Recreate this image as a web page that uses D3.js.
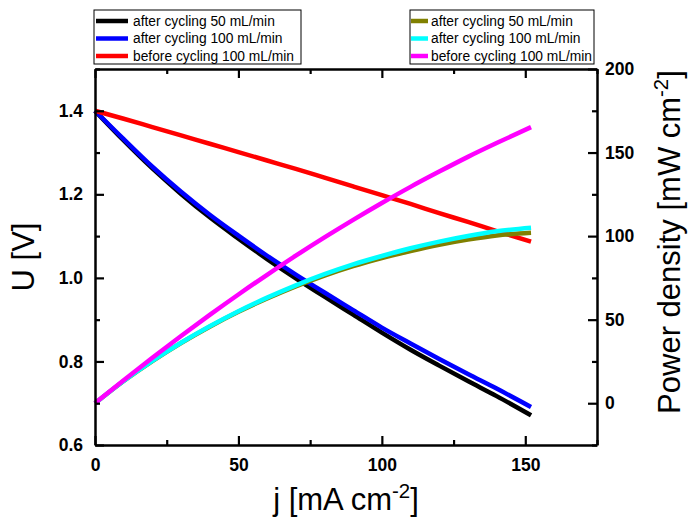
<!DOCTYPE html>
<html>
<head>
<meta charset="utf-8">
<script src="https://cdn.jsdelivr.net/npm/d3@7"></script>
<style>
  html, body { margin: 0; padding: 0; background: #fff; }
  svg { display: block; font-family: "Liberation Sans", Arial, Helvetica, sans-serif; }
</style>
</head>
<body>
<svg id="chart" width="692" height="519"></svg>
<script>
// Current density [mA cm-2]
const currentDensity = [0, 10, 20, 30, 40, 50, 60, 70, 80, 90, 100, 110, 120, 130, 140, 152];

// Cell voltage [V]
const uAfter50 = [1.400, 1.329, 1.262, 1.201, 1.145, 1.094, 1.045, 0.999, 0.955, 0.912, 0.869, 0.828, 0.790, 0.753, 0.717, 0.671];
const uAfter100 = [1.400, 1.332, 1.266, 1.206, 1.151, 1.101, 1.053, 1.008, 0.965, 0.923, 0.881, 0.843, 0.806, 0.770, 0.735, 0.691];
const uBefore100 = [1.400, 1.381, 1.361, 1.341, 1.321, 1.301, 1.281, 1.261, 1.240, 1.219, 1.198, 1.177, 1.155, 1.134, 1.112, 1.087];

// Power density [mW cm-2] = j * U
const pAfter50 = currentDensity.map((j, i) => j * uAfter50[i]);
const pAfter100 = currentDensity.map((j, i) => j * uAfter100[i]);
const pBefore100 = currentDensity.map((j, i) => j * uBefore100[i]);

const xTicks = [0, 50, 100, 150];
const yLeftTicks = [0.6, 0.8, 1.0, 1.2, 1.4];
const yRightTicks = [0, 50, 100, 150, 200];

const leftSeries = [
  { name: "after cycling 50 mL/min", values: uAfter50, color: "#000000" },
  { name: "after cycling 100 mL/min", values: uAfter100, color: "#0000ff" },
  { name: "before cycling 100 mL/min", values: uBefore100, color: "#ff0000" }
];
const rightSeries = [
  { name: "after cycling 50 mL/min", values: pAfter50, color: "#808000" },
  { name: "after cycling 100 mL/min", values: pAfter100, color: "#00ffff" },
  { name: "before cycling 100 mL/min", values: pBefore100, color: "#ff00ff" }
];

const svg = d3.select("#chart");
const m = { left: 95, right: 597, top: 69, bottom: 445 };

const x = d3.scaleLinear().domain([0, 175]).range([m.left, m.right]);
const yL = d3.scaleLinear().domain([0.6, 1.5]).range([m.bottom, m.top]);
const yR = d3.scaleLinear().domain([-25, 200]).range([m.bottom, m.top]);

// Curves
const lineL = d3.line().x((d, i) => x(currentDensity[i])).y(d => yL(d)).curve(d3.curveMonotoneX);
const lineR = d3.line().x((d, i) => x(currentDensity[i])).y(d => yR(d)).curve(d3.curveMonotoneX);

const curves = svg.append("g");
leftSeries.forEach(s => {
  curves.append("path").attr("d", lineL(s.values)).attr("fill", "none")
    .attr("stroke", s.color).attr("stroke-width", 4.5);
});
rightSeries.forEach(s => {
  curves.append("path").attr("d", lineR(s.values)).attr("fill", "none")
    .attr("stroke", s.color).attr("stroke-width", 4.5);
});

// Frame and inward ticks
const axisW = 2.5, major = 9, minor = 5;
function styleAxis(g) {
  g.select(".domain").attr("stroke", "#000").attr("stroke-width", axisW);
  g.selectAll(".tick line").attr("stroke", "#000").attr("stroke-width", 2.2);
}
function drawAxis(axisFn, scale, transform, values, minors, labels) {
  const ax = axisFn(scale).tickValues(values).tickSizeInner(-major).tickSizeOuter(0)
    .tickFormat(labels ? null : "");
  const g = svg.append("g").attr("transform", transform).call(ax);
  styleAxis(g);
  const axm = axisFn(scale).tickValues(minors).tickSizeInner(-minor).tickSizeOuter(0).tickFormat("");
  const gm = svg.append("g").attr("transform", transform).call(axm);
  styleAxis(gm);
  gm.select(".domain").remove();
  return g;
}

const xMinor = [25, 75, 125, 175];
const yLMinor = [0.7, 0.9, 1.1, 1.3, 1.5];
const yRMinor = [-25, 25, 75, 125, 175];

const gBottom = drawAxis(d3.axisBottom, x, `translate(0,${m.bottom})`, xTicks, xMinor, true);
gBottom.selectAll(".tick text").attr("y", 14).attr("dy", "0.71em");
drawAxis(d3.axisTop, x, `translate(0,${m.top})`, xTicks, xMinor, false);
const gLeft = drawAxis(d3.axisLeft, yL, `translate(${m.left},0)`, yLeftTicks, yLMinor, true);
gLeft.selectAll(".tick text").attr("x", -12).text(d => d3.format(".1f")(d));
const gRight = drawAxis(d3.axisRight, yR, `translate(${m.right},0)`, yRightTicks, yRMinor, true);
gRight.selectAll(".tick text").attr("x", 8);

svg.selectAll(".tick text").attr("font-size", 17.5).attr("font-weight", "bold")
  .attr("fill", "#000").attr("font-family", "'Liberation Sans', Arial, sans-serif");

// Axis titles
const titleSize = 31;
svg.append("text").attr("transform", `translate(34,257) rotate(-90)`)
  .attr("text-anchor", "middle").attr("font-size", titleSize).text("U [V]");

const xt = svg.append("text").attr("x", 346).attr("y", 510)
  .attr("text-anchor", "middle").attr("font-size", titleSize);
xt.append("tspan").text("j [mA cm");
xt.append("tspan").attr("font-size", titleSize * 0.66).attr("dy", -12).text("-2");
xt.append("tspan").attr("dy", 12).text("]");

const yt = svg.append("text").attr("transform", `translate(680,242) rotate(-90)`)
  .attr("text-anchor", "middle").attr("font-size", titleSize);
yt.append("tspan").text("Power density [mW cm");
yt.append("tspan").attr("font-size", titleSize * 0.66).attr("dy", -12).text("-2");
yt.append("tspan").attr("dy", 12).text("]");

// Legends
function legend(series, x0, x1, sx0, sx1, tx) {
  const g = svg.append("g");
  g.append("rect").attr("x", x0).attr("y", 10).attr("width", x1 - x0).attr("height", 54)
    .attr("fill", "#fff").attr("stroke", "#000").attr("stroke-width", 1);
  series.forEach((s, i) => {
    const yy = 21 + i * 17.5;
    g.append("line").attr("x1", sx0).attr("x2", sx1).attr("y1", yy).attr("y2", yy)
      .attr("stroke", s.color).attr("stroke-width", 4.5);
    g.append("text").attr("x", tx).attr("y", yy).attr("dy", "0.35em")
      .attr("font-size", 13.8).text(s.name);
  });
}
legend(leftSeries, 94, 301, 96, 128, 133);
legend(rightSeries, 410, 594, 411, 428, 431);
</script>
</body>
</html>
